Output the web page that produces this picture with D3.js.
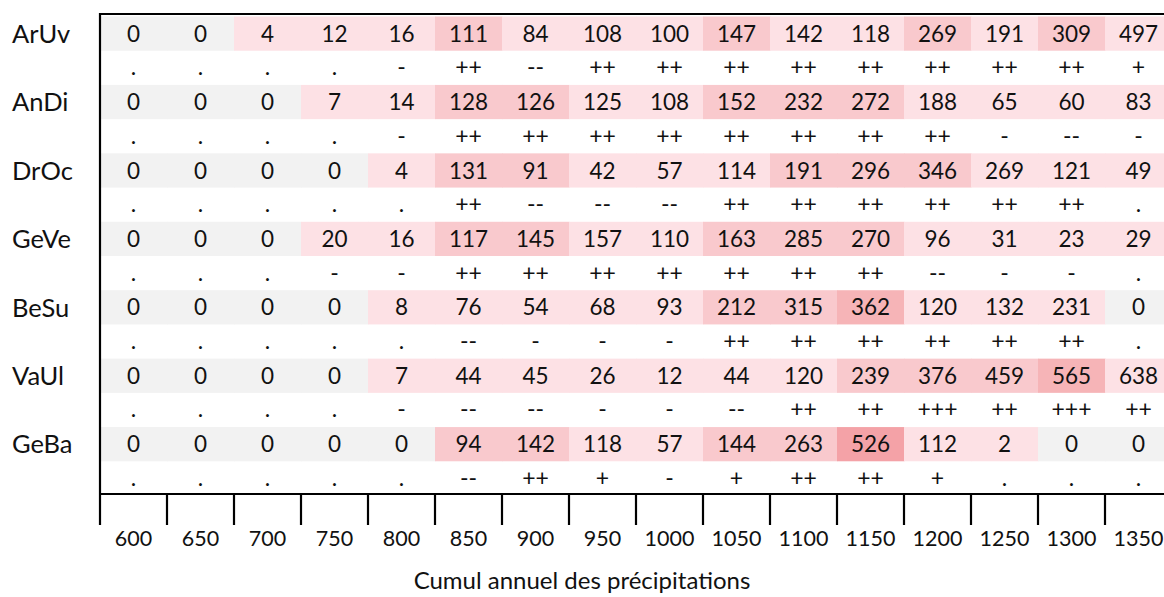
<!DOCTYPE html>
<html>
<head>
<meta charset="utf-8">
<script src="https://cdn.jsdelivr.net/npm/d3@7"></script>
<style>
  body { margin: 0; background: #fff; }
  svg text { font-family: Lato, "Open Sans", sans-serif; fill: #111; }
</style>
</head>
<body>
<div id="chart"></div>
<script>
// rows (stations) and precipitation classes
var rows = ["ArUv", "AnDi", "DrOc", "GeVe", "BeSu", "VaUl", "GeBa"];
var cols = ["600", "650", "700", "750", "800", "850", "900", "950", "1000", "1050", "1100", "1150", "1200", "1250", "1300", "1350"];

// counts per row
var counts = [
  [0, 0, 4, 12, 16, 111, 84, 108, 100, 147, 142, 118, 269, 191, 309, 497],
  [0, 0, 0, 7, 14, 128, 126, 125, 108, 152, 232, 272, 188, 65, 60, 83],
  [0, 0, 0, 0, 4, 131, 91, 42, 57, 114, 191, 296, 346, 269, 121, 49],
  [0, 0, 0, 20, 16, 117, 145, 157, 110, 163, 285, 270, 96, 31, 23, 29],
  [0, 0, 0, 0, 8, 76, 54, 68, 93, 212, 315, 362, 120, 132, 231, 0],
  [0, 0, 0, 0, 7, 44, 45, 26, 12, 44, 120, 239, 376, 459, 565, 638],
  [0, 0, 0, 0, 0, 94, 142, 118, 57, 144, 263, 526, 112, 2, 0, 0]
];

// significance signs under each count
var signs = [
  [".", ".", ".", ".", "-", "++", "--", "++", "++", "++", "++", "++", "++", "++", "++", "+"],
  [".", ".", ".", ".", "-", "++", "++", "++", "++", "++", "++", "++", "++", "-", "--", "-"],
  [".", ".", ".", ".", ".", "++", "--", "--", "--", "++", "++", "++", "++", "++", "++", "."],
  [".", ".", ".", "-", "-", "++", "++", "++", "++", "++", "++", "++", "--", "-", "-", "."],
  [".", ".", ".", ".", ".", "--", "-", "-", "-", "++", "++", "++", "++", "++", "++", "."],
  [".", ".", ".", ".", "-", "--", "--", "-", "-", "--", "++", "++", "+++", "++", "+++", "++"],
  [".", ".", ".", ".", ".", "--", "++", "+", "-", "+", "++", "++", "+", ".", ".", "."]
];

// shading class of each cell (0 = grey, 1..4 = pink shades)
var levels = [
  [0, 0, 1, 1, 1, 2, 1, 1, 1, 2, 1, 1, 2, 1, 2, 1],
  [0, 0, 0, 1, 1, 2, 2, 1, 1, 2, 2, 2, 1, 1, 1, 1],
  [0, 0, 0, 0, 1, 2, 2, 1, 1, 1, 2, 2, 2, 1, 1, 1],
  [0, 0, 0, 1, 1, 2, 2, 1, 1, 2, 2, 2, 1, 1, 1, 1],
  [0, 0, 0, 0, 1, 1, 1, 1, 1, 2, 2, 3, 1, 1, 1, 0],
  [0, 0, 0, 0, 1, 1, 1, 1, 1, 1, 1, 2, 2, 2, 3, 1],
  [0, 0, 0, 0, 0, 2, 2, 1, 1, 2, 2, 4, 1, 1, 0, 0]
];

var shades = ["#f2f2f2", "#fde1e5", "#f9c9cd", "#f6b4b7", "#f4a2a7"];

var width = 1164,
    height = 597;

var svg = d3.select("#chart").append("svg")
    .attr("width", width)
    .attr("height", height);

var x = d3.scaleBand()
    .domain(cols)
    .range([100, 100 + 67 * cols.length]);

var y = d3.scaleBand()
    .domain(rows)
    .range([15, 494]);

var bw = y.bandwidth();

var cells = [];
rows.forEach(function(r, i) {
    cols.forEach(function(c, j) {
        cells.push({ row: r, col: c, n: counts[i][j], sign: signs[i][j], level: levels[i][j] });
    });
});

// shaded count bands
svg.append("g")
    .selectAll("rect")
    .data(cells)
    .enter()
    .append("rect")
    .attr("x", function(d) { return x(d.col); })
    .attr("y", function(d) { return y(d.row) + 1.5; })
    .attr("width", x.bandwidth() + 0.5)
    .attr("height", bw / 2)
    .style("fill", function(d) { return shades[d.level]; });

// counts
svg.append("g")
    .selectAll("text")
    .data(cells)
    .enter()
    .append("text")
    .attr("x", function(d) { return x(d.col) + x.bandwidth() / 2; })
    .attr("y", function(d) { return y(d.row) + 1.5 + bw / 4; })
    .attr("dy", "0.36em")
    .attr("text-anchor", "middle")
    .style("font-size", "22.5px")
    .text(function(d) { return d.n; });

// signs
svg.append("g")
    .selectAll("text")
    .data(cells)
    .enter()
    .append("text")
    .attr("x", function(d) { return x(d.col) + x.bandwidth() / 2; })
    .attr("y", function(d) { return y(d.row) + bw * 0.76; })
    .attr("dy", "0.36em")
    .attr("text-anchor", "middle")
    .style("font-size", "23px")
    .text(function(d) { return d.sign; });

// row labels
svg.append("g")
    .selectAll("text")
    .data(rows)
    .enter()
    .append("text")
    .attr("x", 12)
    .attr("y", function(d) { return y(d) + 1.5 + bw / 4; })
    .attr("dy", "0.36em")
    .style("font-size", "25.5px")
    .text(function(d) { return d; });

// frame lines
var lines = svg.append("g").style("stroke", "#000").style("stroke-width", 2.2);
lines.append("line").attr("x1", 100).attr("x2", width).attr("y1", 14).attr("y2", 14);
lines.append("line").attr("x1", 100).attr("x2", width).attr("y1", 494).attr("y2", 494);

// column separators on the axis
lines.selectAll(".tick-line")
    .data(cols)
    .enter()
    .append("line")
    .attr("x1", function(d) { return x(d); })
    .attr("x2", function(d) { return x(d); })
    .attr("y1", function(d, i) { return i === 0 ? 13 : 494; })
    .attr("y2", 525);

// bottom axis labels
var axis = d3.axisBottom(x).tickSize(0).tickPadding(0);
var gx = svg.append("g")
    .attr("transform", "translate(0,531)")
    .call(axis);
gx.select(".domain").remove();
gx.selectAll("text")
    .style("font-size", "21.5px")
    .style("font-family", "Lato, sans-serif")
    .attr("fill", "#111");

svg.append("text")
    .attr("x", 582)
    .attr("y", 580)
    .attr("dy", "0.36em")
    .attr("text-anchor", "middle")
    .style("font-size", "24px")
    .text("Cumul annuel des précipitations");
</script>
</body>
</html>
